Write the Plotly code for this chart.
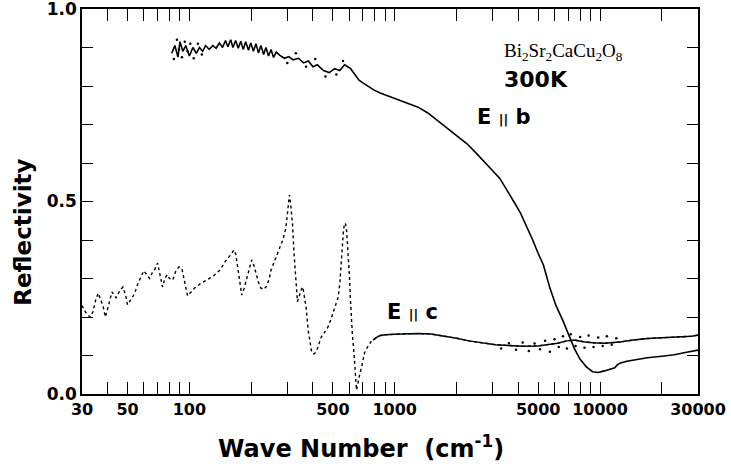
import plotly.graph_objects as go
import math

# ---------------- data ----------------
eb_x = [82, 85, 88, 90, 93, 96, 100, 104, 108, 112, 116, 120, 125, 130, 135, 140, 145,
        150, 154, 159, 163, 168, 173, 178, 183, 188, 194, 199, 205, 211, 217, 223, 230,
        236, 243, 250, 257, 265, 275, 290, 305, 320, 340, 360, 380, 400, 420, 450, 480,
        510, 540, 570, 590, 610, 640, 670, 700, 740, 790, 850, 920, 1000, 1100, 1200,
        1300, 1450, 1600, 1800, 2000, 2250, 2500, 2750, 3000, 3250, 3500, 3800, 4100,
        4400, 4700, 5000, 5300, 5700, 6100, 6600, 7000, 7500, 8000, 8600, 9200, 9800,
        10500, 11200, 11800, 12100, 12500, 13500, 15000, 17000, 20000, 23000, 26000, 30000]
eb_y = [0.885, 0.905, 0.875, 0.915, 0.89, 0.905, 0.878, 0.9, 0.885, 0.9, 0.89, 0.905,
        0.895, 0.905, 0.898, 0.912, 0.9, 0.918, 0.902, 0.92, 0.9, 0.918, 0.898, 0.916,
        0.895, 0.915, 0.893, 0.912, 0.89, 0.91, 0.886, 0.905, 0.882, 0.9, 0.878, 0.895,
        0.874, 0.888, 0.88, 0.872, 0.876, 0.868, 0.872, 0.86, 0.865, 0.85, 0.855, 0.84,
        0.835, 0.845, 0.84, 0.855, 0.85, 0.845, 0.83, 0.815, 0.808, 0.8, 0.79, 0.782,
        0.775, 0.768, 0.76, 0.752, 0.745, 0.73, 0.712, 0.69, 0.67, 0.65, 0.625, 0.6,
        0.58, 0.56, 0.53, 0.5, 0.47, 0.435, 0.4, 0.365, 0.335, 0.275, 0.23, 0.19, 0.155,
        0.118, 0.09, 0.07, 0.058, 0.056, 0.06, 0.064, 0.068, 0.075, 0.08, 0.085, 0.09,
        0.094, 0.098, 0.102, 0.108, 0.114]

ec_x = [30, 31, 32, 33, 34, 35, 36, 37, 38, 39, 40, 42, 44, 46, 47.5, 49, 50, 52, 54, 56,
        58, 60, 62, 64, 66, 68, 70, 72, 74, 76, 78, 80, 83, 86, 89, 92, 95, 98, 102, 106,
        112, 120, 130, 141, 150, 158, 165, 168, 172, 176, 180, 185, 190, 196, 201, 206,
        211, 217, 223, 230, 238, 245, 250, 260, 270, 285, 295, 302, 307, 312, 318, 323,
        327, 332, 336, 341, 350, 357, 363, 370, 379, 387, 394, 404, 414, 425, 439, 455,
        473, 490, 505, 520, 531, 540, 548, 555, 562, 568, 575, 582, 588, 595, 601, 608,
        615, 622, 630, 637, 645, 652, 658, 665, 675, 690, 700, 712, 730, 745, 765, 785,
        820, 850, 900, 1000, 1150, 1300, 1500, 1700, 2000, 2300, 2700, 3100, 3600, 4200,
        5000, 5600, 6200, 6900, 7500, 8300, 9200, 10500, 12500, 14500, 17000, 20000,
        24500, 28000, 30000]
ec_y = [0.23, 0.215, 0.205, 0.2, 0.215, 0.245, 0.262, 0.245, 0.228, 0.2, 0.225, 0.265,
        0.25, 0.27, 0.278, 0.255, 0.232, 0.245, 0.26, 0.285, 0.305, 0.32, 0.31, 0.3,
        0.315, 0.325, 0.34, 0.31, 0.278, 0.3, 0.31, 0.3, 0.296, 0.32, 0.33, 0.325, 0.29,
        0.255, 0.265, 0.275, 0.285, 0.295, 0.305, 0.322, 0.345, 0.36, 0.374, 0.365, 0.33,
        0.29, 0.257, 0.275, 0.3, 0.33, 0.348, 0.335, 0.314, 0.29, 0.275, 0.272, 0.28,
        0.3, 0.322, 0.345, 0.369, 0.4, 0.43, 0.48, 0.517, 0.49, 0.44, 0.37, 0.322, 0.26,
        0.24, 0.25, 0.27, 0.278, 0.255, 0.226, 0.166, 0.13, 0.109, 0.104, 0.109, 0.125,
        0.148, 0.16, 0.174, 0.195, 0.218, 0.235, 0.252, 0.285, 0.34, 0.39, 0.418, 0.44,
        0.444, 0.43, 0.40, 0.36, 0.314, 0.25, 0.192, 0.155, 0.122, 0.08, 0.03, 0.01,
        0.02, 0.036, 0.05, 0.07, 0.09, 0.106, 0.118, 0.127, 0.135, 0.14, 0.148, 0.152,
        0.154, 0.155, 0.156, 0.157, 0.156, 0.152, 0.145, 0.138, 0.132, 0.128, 0.126,
        0.124, 0.125, 0.128, 0.132, 0.138, 0.14, 0.136, 0.133, 0.132, 0.135, 0.14, 0.144,
        0.146, 0.148, 0.15, 0.153]

# scattered noisy points (E||c mid-IR band, E||b far-IR)
ec_noise_x = [3300, 3600, 3900, 4200, 4500, 4800, 5100, 5400, 5700, 6000, 6300, 6600,
              6900, 7200, 7600, 8000, 8400, 8800, 9300, 9800, 10300, 10800, 11400, 12000]
ec_noise_y = [0.118, 0.132, 0.115, 0.134, 0.112, 0.131, 0.116, 0.138, 0.11, 0.142,
              0.122, 0.15, 0.118, 0.155, 0.125, 0.148, 0.12, 0.152, 0.122, 0.147, 0.125,
              0.15, 0.128, 0.145]
eb_noise_x = [84, 87, 89, 92, 95, 98, 101, 105, 110, 115, 300, 330, 370, 410, 460, 520, 560]
eb_noise_y = [0.87, 0.92, 0.895, 0.875, 0.915, 0.89, 0.91, 0.872, 0.91, 0.882, 0.86,
              0.885, 0.85, 0.87, 0.825, 0.83, 0.865]

x_tick_vals = [30, 40, 50, 60, 70, 80, 90, 100, 200, 300, 400, 500, 600, 700, 800, 900,
               1000, 2000, 3000, 4000, 5000, 6000, 7000, 8000, 9000, 10000, 20000, 30000]
x_tick_text = ["30", "", "50", "", "", "", "", "100", "", "", "", "500", "", "", "", "",
               "1000", "", "", "", "5000", "", "", "", "", "10000", "", "30000"]
y_tick_vals = [0.0, 0.1, 0.2, 0.3, 0.4, 0.5, 0.6, 0.7, 0.8, 0.9, 1.0]
y_tick_text = ["0.0", "", "", "", "", "0.5", "", "", "", "", "1.0"]

# ---------------- figure ----------------
fig = go.Figure()
ink = "#000000"

fig.add_trace(go.Scatter(x=ec_x, y=ec_y, mode="lines",
                         line=dict(color=ink, width=1.4, dash="dot")))
fig.add_trace(go.Scatter(x=[v for v in ec_x if v >= 780], y=[ec_y[i] for i, v in enumerate(ec_x) if v >= 780],
                         mode="lines", line=dict(color=ink, width=1.5)))
fig.add_trace(go.Scatter(x=ec_noise_x, y=ec_noise_y, mode="markers",
                         marker=dict(color=ink, size=2.5)))
fig.add_trace(go.Scatter(x=eb_x, y=eb_y, mode="lines",
                         line=dict(color=ink, width=1.6)))
fig.add_trace(go.Scatter(x=eb_noise_x, y=eb_noise_y, mode="markers",
                         marker=dict(color=ink, size=2.5)))

bold = dict(family="DejaVu Sans", color=ink, weight="bold")

fig.update_layout(
    width=731, height=472,
    margin=dict(l=82, r=33, t=9, b=78),
    paper_bgcolor="white", plot_bgcolor="white",
    showlegend=False,
    xaxis=dict(type="log", range=[math.log10(30), math.log10(30000)],
               tickvals=x_tick_vals, ticktext=x_tick_text, automargin=False,
               ticklabeloverflow="allow",
               ticks="inside", ticklen=12, tickwidth=1.2, tickcolor=ink,
               showline=True, linecolor=ink, linewidth=1.5, mirror="ticks",
               showgrid=False, zeroline=False,
               tickfont=dict(size=16, **bold)),
    yaxis=dict(range=[0, 1.0], tickvals=y_tick_vals, ticktext=y_tick_text,
               automargin=False, ticklabeloverflow="allow",
               ticks="inside", ticklen=11, tickwidth=1.2, tickcolor=ink,
               showline=True, linecolor=ink, linewidth=1.5, mirror="ticks",
               showgrid=False, zeroline=False,
               tickfont=dict(size=17, **bold)),
)

bar_span = "<span style='font-size:13px'>||</span>"
ann = [
    dict(x=0.453, y=-0.138, xref="paper", yref="paper", text="Wave Number  (cm<sup>-1</sup>)",
         showarrow=False, xanchor="center", yanchor="middle", font=dict(size=24, **bold)),
    dict(x=-0.095, y=0.42, xref="paper", yref="paper", text="Reflectivity", textangle=-90,
         showarrow=False, xanchor="center", yanchor="middle", font=dict(size=23, **bold)),
    dict(x=3.523, y=0.888, xref="x", yref="y",
         text="Bi<sub>2</sub>Sr<sub>2</sub>CaCu<sub>2</sub>O<sub>8</sub>",
         showarrow=False, xanchor="left", yanchor="middle",
         font=dict(family="Liberation Serif", size=19, color=ink)),
    dict(x=3.523, y=0.816, xref="x", yref="y", text="300K",
         showarrow=False, xanchor="left", yanchor="middle", font=dict(size=22, **bold)),
    dict(x=3.39, y=0.719, xref="x", yref="y",
         text="E " + bar_span + " b",
         showarrow=False, xanchor="left", yanchor="middle", font=dict(size=21, **bold)),
    dict(x=2.953, y=0.213, xref="x", yref="y",
         text="E " + bar_span + " c",
         showarrow=False, xanchor="left", yanchor="middle", font=dict(size=21, **bold)),
]
fig.update_layout(annotations=ann)

fig.write_html("out.html")
